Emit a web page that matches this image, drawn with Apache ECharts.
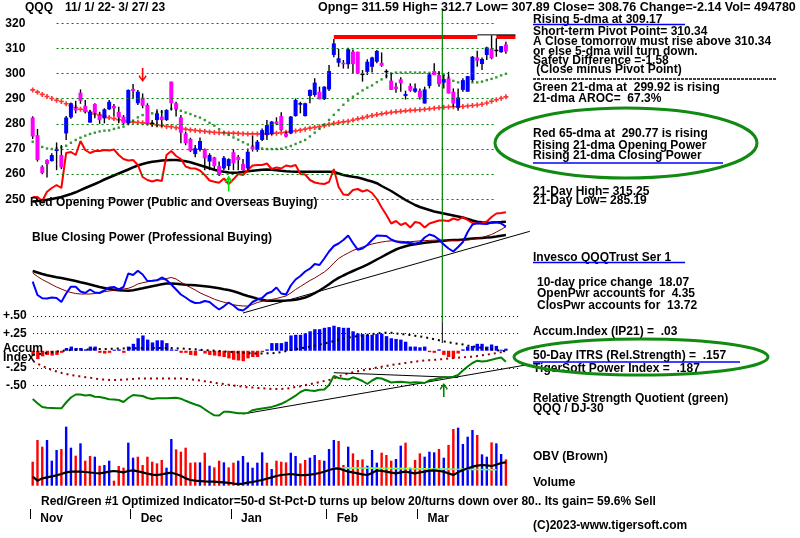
<!DOCTYPE html>
<html><head><meta charset="utf-8">
<script src="https://cdn.jsdelivr.net/npm/echarts@6/dist/echarts.min.js"></script>
<style>html,body{margin:0;padding:0;background:#fff}#c{width:800px;height:538px}</style>
</head><body><div id="c"></div>
<script>
// ---------- categories ----------
const dates = ['11/1','11/2','11/3','11/4','11/7','11/8','11/9','11/10','11/11','11/14','11/15','11/16','11/17','11/18','11/21','11/22','11/23','11/25','11/28','11/29','11/30',
'12/1','12/2','12/5','12/6','12/7','12/8','12/9','12/12','12/13','12/14','12/15','12/16','12/19','12/20','12/21','12/22','12/23','12/27','12/28','12/29','12/30',
'1/3','1/4','1/5','1/6','1/9','1/10','1/11','1/12','1/13','1/17','1/18','1/19','1/20','1/23','1/24','1/25','1/26','1/27','1/30','1/31',
'2/1','2/2','2/3','2/6','2/7','2/8','2/9','2/10','2/13','2/14','2/15','2/16','2/17','2/21','2/22','2/23','2/24','2/27','2/28',
'3/1','3/2','3/3','3/6','3/7','3/8','3/9','3/10','3/13','3/14','3/15','3/16','3/17','3/20','3/21','3/22','3/23','3/24','3/27'];
const padDays = ['+1','+2','+3','+4','+5'];
const monthNames = ['Nov','Dec','Jan','Feb','Mar'];
const priceTicks = [250, 260, 270, 280, 290, 300, 310, 320];
const accumTicks = [0.5, 0.25, -0.25, -0.5];

// ---------- price: [open, close, low, high] ----------
const ohlc = [
[282.5,275,274,283],[275.5,265.6,265,278],[263,260.5,260,263.5],[265.6,264,258.7,265.9],[265.2,267.6,265,268.3],
[269.2,269.9,261.6,272.6],[267.6,262.7,262,271.6],[276.2,282.5,273.6,283.1],[282.6,288.2,282,288.5],[286.2,285.3,284.2,289.2],
[292.4,289.2,288,293.7],[287.2,284.8,284.2,289.5],[280.5,284.8,280.5,285.5],[287.9,284.4,282.2,288.2],[283.5,281.5,280,284.8],
[282.2,285.8,280.2,286.2],[285.8,288.8,285.5,289.5],[287.1,286.2,283.1,287.9],[284.8,282.6,280.2,286.8],[282.9,280.2,279.5,283.5],
[280.2,293.5,279.5,293.7],[293.9,293.1,290.1,295.9],[288.2,292.8,287.5,293.5],[290.4,287.2,286.2,292.1],[287.5,280.2,279.5,288.2],
[280.5,280.2,278.9,281.5],[281.5,284.2,278.9,285.8],[282.9,281.5,278.9,285.5],[281.5,285.5,281.2,285.8],[296.8,288.2,285.3,296.8],
[288.2,285.8,282.9,288.8],[282.6,276.5,272.3,283.5],[276.2,272.3,271.5,276.8],[274,269.3,268.8,274.5],[268,270.3,266.7,271.6],
[269.6,273.2,269,274.6],[269.9,266.3,261.6,270.2],[265,267.6,261.6,268.3],[266.7,263.2,261.6,266.9],[263.2,259.7,259.3,265],
[262.3,266.5,261.6,267.2],[263.2,266,261.6,266.3],[268.7,264.3,261.6,269.9],[266.9,265.6,261.6,267.6],[264,261.6,261.4,266],
[262.3,268.9,261.6,270.2],[271,270,269,275.2],[269.6,272.9,268.9,273.6],[273.6,277.5,273.2,278.2],[275.6,279.5,273.6,281.5],
[276,280.9,275.6,281.1],[280.9,280,279.5,282.6],[283.1,277.5,277.3,284.6],[276.2,274.9,274.6,276.9],[276.2,282.9,276,283.1],
[283.1,289.5,282.9,290.1],[287.6,288.3,284.2,288.8],[283.1,288.2,282.9,288.4],[291.1,293.5,288.2,293.7],[291.5,296.4,290.8,298.1],
[292.8,289.8,289.8,294.8],[289.8,294.8,289.5,295],[293.7,301,293.1,303.4],[307.4,312,306.5,313.8],[304.3,306.1,302.7,309.8],
[304.3,303.8,302,305.4],[303.7,309.7,301.9,310.3],[308.7,303.8,300.1,309.6],[308.7,300.1,299.8,308.7],[300,299.6,296.8,301.4],
[300.7,304.7,299.4,305.7],[302.7,306.4,300.4,306.7],[304.7,309,304.1,309.4],[304.3,303.1,302.7,308.4],[300.7,301.1,298.1,301.7],
[297.2,293.5,293.5,300.1],[294.8,293.9,292.4,296.4],[297.7,296.1,292.8,298.5],[291.1,291.9,289.7,293.2],[295.1,293.2,292.8,296.1],
[292.8,294.1,292.4,296.1],[293.2,290.5,289.7,294.1],[288.1,293.7,288.1,294.8],[295.1,299.7,294.1,300.1],[301,299.4,299.4,304.1],
[299.4,295.8,294.8,301],[296.4,297.8,294.1,299.4],[298.1,292.1,292.1,300.7],[292.8,288.1,286.8,294.1],[286.4,290.5,285.19,294.1],
[293.5,297.4,292.8,298.1],[292.8,299,292.8,299],[297.4,306.7,296.8,307],[306.4,305.1,302.7,309.1],[303.8,305.8,301.4,306.4],
[307.4,310.4,305.4,310.7],[310,306.1,305.7,315.25],[309.2,309.5,306.7,314],[308.5,310.9,308.3,311],[311.59,308.76,307.89,312.7]];

const ma21 = [272.9,271.6,270.8,270.2,270.0,270.2,270.7,271.3,272.5,273.6,274.5,275.3,276.0,276.5,277.0,277.3,277.4,278.0,278.5,278.9,
280.0,281.2,282.6,283.5,283.9,284.2,284.6,284.8,285.1,286.0,285.8,285.2,284.5,283.9,283.1,282.5,281.5,280.4,279.3,277.9,
276.6,275.6,274.6,273.7,272.7,271.8,271.1,270.5,270.2,270.0,270.0,270.0,270.1,270.6,271.2,272.0,272.8,273.6,275.0,276.5,
278.0,279.7,281.6,283.6,285.5,287.6,289.3,290.8,292.0,293.3,294.4,295.3,296.6,297.7,299.0,300.1,300.4,300.4,300.4,300.5,
300.4,300.4,300.4,300.3,300.3,300.1,299.6,298.3,297.1,296.5,296.1,296.4,296.5,296.5,296.8,297.4,297.9,298.5,299.3,299.92];

const ma65 = [293.5,292.6,291.7,290.9,290.1,289.4,288.9,288.0,287.2,286.5,285.8,285.2,284.6,284.0,283.5,283.0,282.5,282.1,281.7,281.3,
280.9,280.7,280.6,280.4,280.2,279.9,279.6,279.3,279.0,278.9,278.5,278.2,277.9,277.6,277.4,277.2,277.0,276.8,276.6,276.5,
276.4,276.3,276.3,276.2,276.1,276.0,276.0,276.0,276.0,276.0,276.1,276.3,276.5,276.7,276.9,277.2,277.5,277.9,278.3,278.6,
278.9,279.3,279.8,280.2,280.5,280.8,281.0,281.5,282.0,282.4,282.9,283.3,283.7,284.0,284.3,284.6,284.8,285.0,285.2,285.4,
285.5,285.6,285.8,286.0,286.2,286.4,286.6,286.7,286.8,286.8,286.9,287.1,287.3,287.5,287.8,288.3,289.0,289.6,290.2,290.77];

// resistance lines [startDay, endDay, price]
const resistRed = [[63, 93, 314.6], [97, 101, 314.6]];
const high21 = [[93, 101, 315.4]];
// signals
const sellArrows = [[23, 299.4], [64, 320.05]];
const buyArrow = [[41, 256.3]];
const signalDay = 85.7;

// ---------- Opening / Closing power (index units) ----------
const openPwr = [123,123,119,128.3,132,135,132,167,168,165,179,170,167,169,169,170,169.5,170.5,165,161,
159.5,160,155,143,140,138.5,140,139,165,169,164,161,153.5,151.7,151.5,149.5,145,139.5,138.3,137.3,
141.5,136,140.7,146,145,150,154.5,155,155,156.5,151,152.5,151.5,154.5,153.5,155,146,145.5,140,137.5,
136.5,136,138,151,133,125.5,125,130,131,128.5,130,127,121,112.5,105,96.5,99,95,97,92.5,
98,97,92.5,96.5,98,99.5,99.5,99,101.5,100,103,100,97,96.7,97,98.5,103,106.5,107,107.7];
const openPwrMA = [118.5,119,119.5,120.2,121,122,123,124.5,126,127.7,129.8,132,134,136,138.2,140.5,142.5,144.5,146.5,148.5,
150.5,152.7,154.5,156,157.2,158.2,158.8,159.4,159.8,160,159.9,159.5,158.8,157.8,156.2,154.7,153.2,151.7,150.2,149,
148.2,147.6,147.3,147.5,148,148.7,149.3,149.8,150.2,150.5,150.3,149.8,149.2,148.7,148.4,148.3,148.3,148.3,148.3,148.3,
148.3,148.3,148.3,148,146.5,145,144,143.2,142.5,141.2,139.8,138.5,136.8,134,131.5,129,126,123,120,117.5,
115,113,111.5,110,108.5,107.5,106.5,105.5,104.5,103.5,102.5,101,99.5,98.2,97.7,97.3,97.5,97.8,98,98.3];
const closePwr = [38.3,25,21.7,21.5,22.5,22,18,26.5,33.3,33.3,28.5,27,30.5,27.5,27,29.5,32.5,33,30.5,33,
46.5,45,49.3,45.5,39,39.2,39.7,42.5,40,35.5,30.5,25.5,22.5,19,17,17.3,19,18,14,10.5,
13.7,17.5,14.5,10.5,9.5,13,18,20.5,22,26.5,28.3,32.5,26.5,25.5,34.5,40.5,44,48.5,51.3,56,
55,61.5,68.5,74,76.5,80,84.5,77,70.3,71.5,75,80,84.5,84.3,84,80.5,78.5,77.5,77.3,77,
76.3,77.5,82.5,85.5,84,80.5,75.5,71.5,68.5,73,78,88,95.5,96.7,96.3,96,97.5,98,96.5,93.3];
const closePwrMA21 = [47,43.5,40.5,38,35.5,33,31,29,27.5,26.5,26,26,26,26.5,27.5,28.3,29,29.7,30.3,31,
31.7,33.5,36,37.3,38.2,39,39.7,40.5,41.5,42.5,41,38,35,32.5,30,27.2,25,23,20.8,19.2,
17.8,16.5,15.2,14.5,14,14,15.5,17.5,18.7,19.5,20.5,21.5,22.8,24,27,30.5,33.5,36.5,39.5,42,
45,48,52,57,61.5,64.5,67,69.5,71.3,73,74.5,76,77,78,78.7,79.2,79,78.7,78.4,78.3,
78.7,79.1,79.4,79.6,79.8,80,79.9,79.7,79.4,79.3,79.6,80,80.6,81.5,82.5,84,85.5,88,90.5,93.3];
const closePwrMA50 = [49,47.5,46,44.7,43.8,42.8,42,41,40,39,37.8,36.7,35.5,34.2,33,32,31,30.2,29.7,29.4,
29.3,29.8,30.7,31.7,32.8,33.8,34.7,35.7,36.5,36.6,36.2,35.7,35.3,35,34.7,34.3,33.8,33.3,32.6,31.7,
30.8,30,28.7,27.2,25.5,24,22.7,21.4,20.2,19.3,19.2,19.2,19.3,19.4,19.7,20.3,21.2,22.5,24.4,26.8,
29.5,32.5,35.7,39.2,42.1,44.5,46.8,49,51.1,53.2,55.4,57.9,60.5,63,65.7,68.2,70.5,72.3,73.7,75,
75.8,76.5,77.2,77.7,78.2,78.8,79.3,79.7,79.9,80,80.4,80.9,81.4,81.8,82.1,82.4,82.7,83.4,84.2,85];
const closePwrTrend = [[44, 7], [104, 88.7]];

// ---------- Accumulation index ----------
const accum = [-0.06,-0.12,-0.08,-0.06,-0.07,-0.06,-0.03,0.04,0.06,0.04,0.04,0.02,0.06,0.06,-0.03,-0.04,-0.03,0.015,0.02,-0.03,
0.06,0.10,0.18,0.22,0.16,0.12,0.15,0.15,0.11,0.02,0.015,-0.03,-0.03,-0.06,-0.07,0.015,-0.04,-0.06,-0.07,-0.08,
-0.09,-0.11,-0.13,-0.14,-0.15,-0.11,-0.09,-0.09,-0.02,0.02,0.11,0.11,0.11,0.13,0.22,0.23,0.23,0.25,0.28,0.31,
0.31,0.33,0.34,0.36,0.34,0.33,0.33,0.28,0.25,0.24,0.23,0.23,0.24,0.245,0.21,0.18,0.17,0.16,0.13,0.06,
0.06,0.05,0.06,-0.02,-0.03,0.02,-0.06,-0.09,-0.11,-0.04,0.02,0.06,0.07,0.10,0.10,0.06,0.09,0.07,0.015,0.03];
const accumMA = [-0.06,-0.05,-0.04,-0.03,-0.02,-0.01,0,0.005,0.01,0.012,0.015,0.017,0.02,0.022,0.024,0.026,0.028,0.03,0.032,0.034,
0.035,0.036,0.037,0.038,0.039,0.04,0.04,0.04,0.04,0.038,0.035,0.032,0.028,0.025,0.02,0.015,0.01,0.005,0,-0.005,
-0.01,-0.015,-0.02,-0.025,-0.03,-0.035,-0.04,-0.04,-0.04,-0.037,-0.035,-0.03,-0.02,-0.005,0.01,0.02,0.035,0.045,0.06,0.075,
0.09,0.105,0.12,0.14,0.16,0.175,0.19,0.20,0.21,0.22,0.23,0.24,0.25,0.255,0.26,0.258,0.25,0.24,0.235,0.225,
0.215,0.205,0.195,0.18,0.165,0.15,0.135,0.12,0.11,0.10,0.09,0.075,0.065,0.05,0.04,0.03,0.02,0.01,0,-0.01];
const accumLong = [-0.15,-0.19,-0.22,-0.25,-0.28,-0.30,-0.32,-0.335,-0.35,-0.36,-0.37,-0.38,-0.39,-0.40,-0.41,-0.415,-0.42,-0.42,-0.418,-0.415,
-0.41,-0.405,-0.40,-0.40,-0.40,-0.40,-0.40,-0.40,-0.40,-0.40,-0.40,-0.40,-0.405,-0.41,-0.42,-0.43,-0.44,-0.45,-0.46,-0.47,
-0.48,-0.49,-0.50,-0.51,-0.52,-0.525,-0.53,-0.535,-0.54,-0.545,-0.55,-0.55,-0.55,-0.545,-0.535,-0.52,-0.51,-0.495,-0.48,-0.465,
-0.45,-0.435,-0.42,-0.40,-0.37,-0.345,-0.325,-0.31,-0.295,-0.28,-0.27,-0.255,-0.24,-0.23,-0.22,-0.205,-0.195,-0.185,-0.175,-0.165,
-0.155,-0.15,-0.14,-0.135,-0.13,-0.125,-0.12,-0.11,-0.105,-0.10,-0.095,-0.09,-0.085,-0.075,-0.065,-0.055,-0.045,-0.035,-0.02,-0.01];

// ---------- Relative strength quotient QQQ / DJ-30 ----------
const rsq = [21,16.7,13,12.2,12,11.7,11.7,17.5,22.5,25.5,25.5,24.5,25,23.2,23,22,20.8,20.4,20,18,
22,25,24.5,24,22,21,21.7,21.7,21.7,22,22.3,21.3,19.2,17.3,15.5,14,10.7,7.5,4.7,4.5,
8.3,8.3,7.5,6.7,6.7,7,9.8,10.8,11.6,12.3,13.1,14.5,16.2,18.5,21.3,24.3,28,30.2,29.5,29,
30.2,30.5,35,44,42,41.2,40.5,42.7,41,39,36,39.5,42,41.5,39.5,37.5,38,38.3,37.8,37.3,
37.8,37.5,37,39.7,40.5,41.8,42.7,42.7,43.2,45,49.5,53.5,57,59.3,58.4,59,60.2,61.5,62.5,58.3];
const rsqSupport = [[44, 6], [104, 55.7]];
const rsqResist = [[63, 47.3], [89, 42.5]];
const rsqArrow = [[86, 30]];

// ---------- Volume & OBV ----------
const volume = [72,137,117,137,75,107,110,177,114,90,127,75,89,87,60,62,75,15,59,54,
129,84,87,62,87,72,67,77,54,140,109,102,114,69,70,70,99,60,55,75,
70,55,69,75,89,70,54,69,100,69,50,75,72,70,99,89,67,77,84,92,
77,75,110,137,134,62,117,97,77,79,60,107,69,99,92,75,80,120,129,54,
77,97,87,102,100,110,84,122,170,174,125,147,167,152,94,87,130,127,95,79];
const volColor = 'rrrbbbrbbrbrrbrbbrrrbbrrrrrrbbrrrrrbrbrrbrrbbbbbbrbrrrbbrrbbrbbbrrbrrrbbbrrrbbrbrrbbbrbrrbbbbrbbrbbr';
const obv = [27,15,22,25,28,31,35,40,42,42,42,41,39.5,38,37,39,42,44,42,40,
44,46,43,40,36,33,32,34,37,39,35,30,22,17,15,14,13,12.5,12,11,
10,8.5,6.5,5,6,9,11,14,17,21,25,29,32,33.5,35,33,32,32,33,35,
38,42,47,51,52,47,42,40,37,34,32,38,46,44,42,39,37,40,42,39,
37,40,42,45,46,44,42,37,32,40,47,52,57,60,62,61,59,63,68,70];
const obvResist = [[63, 54], [97, 48]];

// ---------- text ----------
const FONT = 'bold 12px "Liberation Sans", Arial, sans-serif';
const headerTexts = [
  {t: 'QQQ', x: 25, y: 8},
  {t: '11/ 1/ 22- 3/ 27/ 23', x: 65, y: 8},
  {t: 'Opng= 311.59 High= 312.7 Low= 307.89 Close= 308.76 Change=-2.14 Vol= 494780', x: 318, y: 8, f: 'bold 12.5px "Liberation Sans", Arial, sans-serif'}
];
const panelTexts = [
  {t: 'Rising 5-dma at 309.17', x: 533, y: 20},
  {t: 'Short-term Pivot Point= 310.34', x: 533, y: 32},
  {t: 'A Close tomorrow must rise above 310.34', x: 533, y: 42},
  {t: 'or else 5-dma will turn down.', x: 533, y: 51.5},
  {t: 'Safety Difference =-1.58', x: 533, y: 60.5},
  {t: ' (Close minus Pivot Point)', x: 533, y: 70},
  {t: 'Green 21-dma at  299.92 is rising', x: 533, y: 88},
  {t: '21-dma AROC=  67.3%', x: 533, y: 98.5},
  {t: 'Red 65-dma at  290.77 is rising', x: 533, y: 134},
  {t: 'Rising 21-dma Opening Power', x: 533, y: 145.5},
  {t: 'Rising 21-dma Closing Power', x: 533, y: 156},
  {t: '21-Day High= 315.25', x: 533, y: 191.5},
  {t: '21-Day Low= 285.19', x: 533, y: 200.5},
  {t: 'Invesco QQQTrust Ser 1', x: 533, y: 257.5},
  {t: '10-day price change  18.07', x: 537, y: 283},
  {t: 'OpenPwr accounts for  4.35', x: 537, y: 294},
  {t: 'ClosPwr accounts for  13.72', x: 537, y: 305.5},
  {t: 'Accum.Index (IP21) =  .03', x: 533, y: 332},
  {t: '50-Day ITRS (Rel.Strength) =  .157', x: 533, y: 355.5},
  {t: 'TigerSoft Power Index =  .187', x: 533, y: 369},
  {t: 'Relative Strength Quotient (green)', x: 533, y: 399},
  {t: 'QQQ / DJ-30', x: 533, y: 408.5},
  {t: 'OBV (Brown)', x: 533, y: 457},
  {t: 'Volume', x: 533, y: 483},
  {t: '(C)2023-www.tigersoft.com', x: 533, y: 526},
  {t: 'Red Opening Power (Public and Overseas Buying)', x: 30, y: 203},
  {t: 'Blue Closing Power (Professional Buying)', x: 32, y: 237.5},
  {t: 'Accum', x: 3, y: 349},
  {t: 'Index', x: 3, y: 358},
  {t: 'Red/Green #1 Optimized Indicator=50-d St-Pct-D turns up below 20/turns down over 80.. Its gain= 59.6% Sell', x: 41, y: 502}
];
const underlines = [[533, 685, 24.5], [533, 723, 163], [533, 685, 262.5], [533, 740, 362]];
const ellipses = [[626, 143, 131, 35], [641, 357, 127, 18]];

// ---------- layout ----------
const cats = dates.concat(padDays);
const monthStarts = [];
dates.forEach((d, i) => { if (i === 0 || d.split('/')[0] !== dates[i - 1].split('/')[0]) monthStarts.push(i); });
const L = 30.3, W = 105 * 4.78;
const grids = [
  {left: L, width: W, top: 23.3, height: 176},      // 0 price
  {left: L, width: W, top: 120, height: 200},       // 1 power
  {left: L, width: W, top: 316, height: 86.875},    // 2 accum
  {left: L, width: W, top: 350, height: 70},        // 3 RS
  {left: L, width: W, top: 420, height: 65.7},      // 4 volume
  {left: L - 2.39, width: W, top: 500, height: 9},  // 5 month axis
  {left: L, width: W, top: 10, height: 312},        // 6 signal line
  {left: L, width: W, top: 322, height: 21}         // 7 signal line lower
];
const hiddenCat = (g) => ({type: 'category', gridIndex: g, data: cats, show: false, boundaryGap: true});
const xAxes = [0,1,2,3,4].map(hiddenCat);
xAxes.push({type: 'category', gridIndex: 5, data: cats, boundaryGap: true,
  axisLine: {show: false},
  axisTick: {show: true, alignWithLabel: true, length: 10, interval: (i) => monthStarts.includes(i), lineStyle: {color: '#000', width: 1}},
  axisLabel: {interval: (i) => monthStarts.includes(i), formatter: (v, i) => monthNames[monthStarts.indexOf(i)] || '',
    align: 'left', padding: [0, 0, 0, 10], margin: 4, fontWeight: 'bold', fontSize: 12, color: '#000', fontFamily: 'Liberation Sans'}
});
xAxes.push({type: 'value', gridIndex: 6, min: -0.5, max: 104.5, show: false});
xAxes.push({type: 'value', gridIndex: 7, min: -0.5, max: 104.5, show: false});

const labelStyle = {fontWeight: 'bold', fontSize: 12, color: '#000', fontFamily: 'Liberation Sans'};
const yAxes = [
  {type: 'value', gridIndex: 0, min: 250, max: 320, interval: 10, axisLine: {show: false}, axisTick: {show: false}, splitLine: {show: false},
   axisLabel: Object.assign({margin: 5}, labelStyle)},
  {type: 'value', gridIndex: 1, min: 0, max: 200, show: false, splitLine: {show: false}},
  {type: 'value', gridIndex: 2, min: -0.75, max: 0.5, interval: 0.25, axisLine: {show: false}, axisTick: {show: false}, splitLine: {show: false},
   axisLabel: Object.assign({margin: 4, formatter: (v) => accumTicks.includes(v) ? (v > 0 ? '+' : '-') + '.' + String(Math.round(Math.abs(v) * 100)).padStart(2, '0') : ''}, labelStyle)},
  {type: 'value', gridIndex: 3, min: 0, max: 70, show: false, splitLine: {show: false}},
  {type: 'value', gridIndex: 4, min: 0, max: 197, show: false, splitLine: {show: false}},
  {type: 'value', gridIndex: 5, min: 0, max: 1, show: false, splitLine: {show: false}},
  {type: 'value', gridIndex: 6, min: 0, max: 1, show: false, splitLine: {show: false}},
  {type: 'value', gridIndex: 7, min: 0, max: 1, show: false, splitLine: {show: false}}
];

const PLUS = 'path://M2,0H4V2H6V4H4V6H2V4H0V2H2Z';
const DOWN = 'path://M4,0L6,0L6,10.5L9,7L10,8.5L5,14L0,8.5L1,7L4,10.5Z';
const UP = 'path://M4,14L6,14L6,3.5L9,7L10,5.5L5,0L0,5.5L1,7L4,3.5Z';

function seg(g, pts, color, width, extra) {
  return Object.assign({type: 'line', xAxisIndex: g, yAxisIndex: g, data: pts, symbol: 'none', silent: true,
    lineStyle: {color: color, width: width}, z: 3}, extra || {});
}
function lineOf(g, arr, color, width, type, z) {
  return {type: 'line', xAxisIndex: g, yAxisIndex: g, data: arr, symbol: 'none', silent: true,
    lineStyle: {color: color, width: width, type: type || 'solid'}, z: z || 3};
}

const series = [];
// price gridlines + 65 dma
series.push({type: 'scatter', xAxisIndex: 0, yAxisIndex: 0, data: ma65.map((v, i) => [i, v]), symbol: PLUS, symbolSize: 5,
  itemStyle: {color: '#ff0000'}, silent: true, z: 2,
  markLine: {silent: true, symbol: 'none', label: {show: false}, lineStyle: {color: '#008000', width: 1, type: [2, 3]},
    data: priceTicks.map(p => [{coord: [5, p]}, {coord: [97, p]}])},
  markPoint: {silent: true, label: {show: false},
    data: sellArrows.map(a => ({coord: a, symbol: DOWN, symbolSize: [8, 14], itemStyle: {color: '#ff0000'}}))
      .concat(buyArrow.map(a => ({coord: a, symbol: UP, symbolSize: [8, 16], itemStyle: {color: '#00e000'}})))}
});
series.push({type: 'scatter', xAxisIndex: 0, yAxisIndex: 0, data: ma21.map((v, i) => [i, v]), symbol: 'rect', symbolSize: 2.4,
  itemStyle: {color: '#008000'}, silent: true, z: 2});
// candles
series.push({type: 'custom', xAxisIndex: 0, yAxisIndex: 0, silent: true, z: 4,
  data: ohlc.map((d, i) => [i, d[0], d[1], d[2], d[3]]),
  encode: {x: 0, y: [1, 2, 3, 4]},
  renderItem: function (params, api) {
    const i = api.value(0), o = api.value(1), c = api.value(2), l = api.value(3), h = api.value(4);
    const pO = api.coord([i, o]), pC = api.coord([i, c]), pL = api.coord([i, l]), pH = api.coord([i, h]);
    const w = 4;
    const top = Math.min(pO[1], pC[1]);
    const ht = Math.max(1.5, Math.abs(pO[1] - pC[1]));
    const flat = Math.abs(c - o) < 0.45;
    return {type: 'group', children: [
      {type: 'line', shape: {x1: pH[0], y1: pH[1], x2: pL[0], y2: pL[1]}, style: {stroke: '#000', lineWidth: 1.4}},
      {type: 'rect', shape: {x: pO[0] - w / 2, y: top, width: w, height: ht}, style: {fill: flat ? '#000' : (c > o ? '#0000ff' : '#ff00ff')}}
    ]};
  }
});
resistRed.forEach(r => series.push(seg(0, [[r[0], r[2]], [r[1], r[2]]], '#ff0000', 4)));
high21.forEach(r => series.push(seg(0, [[r[0], r[2]], [r[1], r[2]]], '#000', 1)));

// power panel
series.push(lineOf(1, openPwrMA, '#000', 2.5));
series.push(lineOf(1, openPwr, '#ff0000', 2));
series.push(lineOf(1, closePwrMA50, '#000', 2.5));
series.push(lineOf(1, closePwrMA21, '#800000', 1));
series.push(lineOf(1, closePwr, '#0000ff', 2, 'solid', 4));
series.push(seg(1, closePwrTrend, '#000', 1));

// accum panel
series.push({type: 'bar', xAxisIndex: 2, yAxisIndex: 2, data: accum, barWidth: 3.4, silent: true, z: 2,
  itemStyle: {color: (p) => p.value >= 0 ? '#0000ff' : '#ff0000'},
  markLine: {silent: true, symbol: 'none', label: {show: false}, lineStyle: {color: '#000', width: 1, type: [1, 3]},
    data: accumTicks.map(v => [{coord: [0, v]}, {coord: [102, v]}])}
});
series.push(lineOf(2, accumMA, '#000', 2, [2, 4]));
series.push(lineOf(2, accumLong, '#990000', 2, [2, 4]));

// RS panel
series.push(lineOf(3, rsq, '#008000', 2, 'solid', 4));
series.push(seg(3, rsqSupport, '#000', 1));
series.push(seg(3, rsqResist, '#000', 1, {markPoint: {silent: true, label: {show: false},
  data: rsqArrow.map(a => ({coord: a, symbol: UP, symbolSize: [8, 14], itemStyle: {color: '#008000'}}))}}));

// volume panel
series.push({type: 'bar', xAxisIndex: 4, yAxisIndex: 4, data: volume, barWidth: 2.4, silent: true, z: 2,
  itemStyle: {color: (p) => volColor[p.dataIndex] === 'b' ? '#0000ff' : '#ff0000'}});
series.push(lineOf(4, obv, '#000', 2.2, 'solid', 4));
series.push(seg(4, obvResist, '#00ffff', 1.5));
series.push(seg(4, obvResist, '#ffff00', 1.5, {lineStyle: {color: '#e8e800', width: 1.5, type: [3, 3]}}));

// signal vertical line
series.push(seg(6, [[signalDay, 0], [signalDay, 1]], '#008000', 1.2));
series.push(seg(7, [[signalDay, 0], [signalDay, 1]], '#000', 1));

// graphics
const graphic = [];
headerTexts.concat(panelTexts).forEach(t => graphic.push({type: 'text', x: t.x, y: t.y, silent: true, z: 10,
  style: {text: t.t, font: t.f || FONT, fill: '#000', verticalAlign: 'middle', align: 'left'}}));
underlines.forEach(u => graphic.push({type: 'line', silent: true, z: 10, shape: {x1: u[0], y1: u[2], x2: u[1], y2: u[2]}, style: {stroke: '#0000ff', lineWidth: 1.5}}));
graphic.push({type: 'line', silent: true, z: 10, shape: {x1: 533, y1: 79, x2: 777, y2: 79}, style: {stroke: '#000', lineWidth: 1.5, lineDash: [3, 1]}});
ellipses.forEach(e => graphic.push({type: 'ellipse', silent: true, z: 11, shape: {cx: e[0], cy: e[1], rx: e[2], ry: e[3]}, style: {fill: 'none', stroke: '#108a10', lineWidth: 3}}));

const chart = echarts.init(document.getElementById('c'), null, {renderer: 'canvas'});
chart.setOption({
  animation: false,
  backgroundColor: '#fff',
  grid: grids,
  xAxis: xAxes,
  yAxis: yAxes,
  series: series,
  graphic: graphic
});
</script>
</body></html>
